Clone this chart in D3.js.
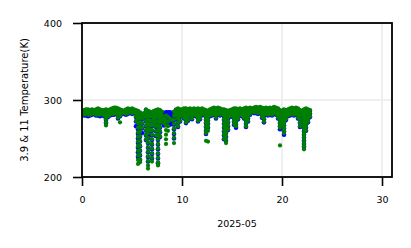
<!DOCTYPE html>
<html><head><meta charset="utf-8">
<script src="https://cdn.jsdelivr.net/npm/d3@7"></script>
<style>
html,body{margin:0;padding:0;background:#fff;}
svg{display:block;}
text{font-family:"DejaVu Sans",sans-serif;fill:#000;}
</style></head>
<body><div id="chart"></div>
<script>
const xTicks = [0, 10, 20, 30];
const yTicks = [200, 300, 400];
const xLabel = "2025-05";
const yLabel = "3.9 & 11 Temperature(K)";

const days = [0.2,0.4,0.6,0.8,1.0,1.2,1.4,1.6,1.8,2.0,2.2,2.4,2.6,2.8,3.0,3.2,3.4,3.6,3.8,4.0,4.2,4.4,4.6,4.8,5.0,5.2,5.4,5.6,5.8,6.0,6.2,6.4,6.6,6.8,7.0,7.2,7.4,7.6,7.8,8.0,8.2,8.4,8.6,8.8,9.0,9.2,9.4,9.6,9.8,10.0,10.2,10.4,10.6,10.8,11.0,11.2,11.4,11.6,11.8,12.0,12.2,12.4,12.6,12.8,13.0,13.2,13.4,13.6,13.8,14.0,14.2,14.4,14.6,14.8,15.0,15.2,15.4,15.6,15.8,16.0,16.2,16.4,16.6,16.8,17.0,17.2,17.4,17.6,17.8,18.0,18.2,18.4,18.6,18.8,19.0,19.2,19.4,19.6,19.8,20.0,20.2,20.4,20.6,20.8,21.0,21.2,21.4,21.6,21.8,22.0,22.2,22.4,22.6,22.8];

// 11 um brightness temperature (green), several samples per time column
const temp11 = [
[287,284,281],[288,285,282],[288,284,281],[287,284,281],[288,285,282],[286,283],
[288,284,281],[289,285,281],[288,284,281],[287,283],[287,284,280],[288,284,279,275,271,267],
[287,283,279],[288,285,281],[289,285,282],[290,286,282],[290,286,283],[289,285,281,277],
[288,284,280,271],[287,283],[286,283],[288,285,282],[289,286,283],[288,285],[289,286,283],[288,284],
[287,283,279,273],[286,282,276,270,264,258,252,246,240,234,228,222,217],
[284,278,271,265,259,253,247,241,235,229,223,219],[282,276,270,264],[283,278],
[288,284,279,273,267,261,255,249],[286,281,275,269,263,257,251,245,239,233,227,221,215,211],
[285,279,273,267,261],[284,279,273,267,261,255,249,243,237,231,225,220],[286,281,276,270],
[287,283,278,272,266,260,254],[288,284,279,273,267,261,255,249,243,237,231,225,219,215],
[287,283,277,271,265,259,253],[285,280,274],[276,270],[280,273,267,261,255,249,243],
[278,272,266,260],[276],[274],[285,280,275,269,263,257,251,244],[288,284,280],
[289,285,281,276,271,266],[288,284,279,273],[288,285,281],[289,285,281,277],
[289,285,280,275,271],[288,284,279,274],[289,285,281],[288,284,280,276],[289,285,281],
[288,284,280],[289,285,281,277,273],[288,284,280,276],[289,285,281],[288,284],
[287,283,279,275,271,266,261,257,247],[286,282,278,274,270,265,260,246],[288,284,280],
[289,285,281],[290,286,282],[289,285,281,277],[290,286,282],[289,285,281],[288,284],
[288,284,280,275,270,265,260,255,250],[287,283,278,273,268,263,258,253,248,244],
[286,282,277,272,267,262],[287,283,279],[288,284,280],[289,285,281,277,273,269],
[289,285,281,277,273,269,266],[288,284,280,276],[289,285,281],[288,284,280],
[289,285,281,277],[290,286,282,278,274,270,266],[289,285,281,277,273],[290,286,282],
[289,285],[290,287,284],[291,287,284],[290,287,283],[291,287,284],[290,286,282,278],
[289,285,281,276,272],[290,286,282],[289,285,281],[290,286,282],[289,285,281],
[291,287,283],[290,286,282],[289,285,281,277],[287,283,279,275,271,267,264,241],
[285,280,275,270],[288,284,280,276,272,268,264,260,257],[287,283,279,275],[288,284,280],
[289,285,281],[290,286,282],[289,285,281],[290,286,282],[289,285,281,277],
[287,283,279,275,271,266],[286,282],
[288,284,280,276,272,268,264,260,256,252,248,244,240,236],
[289,285,281,277,273,269,265,261],[288,284,280,276,272],[287,283,279]
];

// 3.9 um brightness temperature (blue)
const temp39 = [
[286,283,280],[287,284,280],[287,283,279],[286,283,280],[287,284,281],[285,282],
[287,283,280],[288,284,280],[287,283,279],[286,282],[286,283,279],[287,283,278,274,270],
[286,282,278],[287,284,280],[288,284,281],[289,285,281],[289,285,282],[288,284,280,276],
[287,283,279],[286,282],[285,282],[287,284,281],[288,285,282],[287,284],[288,285,282],[287,283],
[286,282,278,272,266],[285,280,274,268,262,256,250,244,238,232,226],
[283,277,270,264,258,252,246,240,234,228,222],[281,275,269,263,257],[282,277],
[287,283,278,272,266,260,254,248],[285,280,274,268,262,256,250,244,238,232,226,220],
[284,278,272,266,260,254],[283,278,272,266,260,254,248,242,236,230,224],[285,280,275,269],
[286,282,277,271,265,259,253],[287,283,278,272,266,260,254,248,242,236,230,224,218],
[286,282,276,270,264,258,252],[284,279,273],[283,279,275,271,267],[284,280,276,272,268],
[284,280,276,272,268],[284,280,276,272,268],[283,279,275,271],[284,279,274,268,262,256,250],
[287,283,279,275],[288,284,280,275,270,265],[287,283,278,272],[287,284,280],[288,284,280,276],
[288,284,279,274,270],[287,283,278,273],[288,284,280],[287,283,279,275],[288,284,280],
[287,283,279],[288,284,280,276,272],[287,283,279,275],[288,284,280],[287,283],
[286,282,278,274,270,265,260,256],[285,281,277,273,269,264],[287,283,279],
[288,284,280],[289,285,281],[288,284,280,276],[289,285,281],[288,284,280],[287,283],
[287,283,279,274,269,264,259,254,249],[286,282,277,272,267,262,257,252,247],
[285,281,276,271,266,261],[286,282,278],[287,283,279],[288,284,280,276,272,268],
[288,284,280,276,272,268,264],[287,283,279,275],[288,284,280],[287,283,279],
[288,284,280,276],[289,285,281,277,273,269,265],[288,284,280,276,272],[289,285,281],
[288,284],[289,286,283],[290,286,283],[289,286,282],[290,286,283],[289,285,281,277],
[288,284,280,275,271],[289,285,281],[288,284,280],[289,285,281],[288,284,280],
[290,286,282],[289,285,281],[288,284,280,276],[286,282,278,274,270,266,262],
[284,279,274,269],[287,283,279,275,271,267,263,259,255],[286,282,278,274],[287,283,279],
[288,284,280],[289,285,281],[288,284,280],[289,285,281],[288,284,280,276],
[286,282,278,274,270,265],[285,281],
[287,283,279,275,271,267,263,259,255,251,247,243,239],
[288,284,280,276,272,268,264,260],[287,283,279,275,271],[286,282,278]
];

const W = 411, H = 248;
const svg = d3.select("#chart").append("svg").attr("width", W).attr("height", H);
svg.append("rect").attr("width", W).attr("height", H).attr("fill", "#fff");

const x = d3.scaleLinear().domain([0, 31]).range([82, 392]);
const y = d3.scaleLinear().domain([200, 400]).range([177, 23]);

// grid
const grid = svg.append("g");
grid.selectAll("line.gx").data(xTicks).join("line")
  .attr("x1", d => x(d)).attr("x2", d => x(d)).attr("y1", y(200)).attr("y2", y(400))
  .attr("stroke", "#ebebeb").attr("stroke-width", 1.6);
grid.selectAll("line.gy").data(yTicks).join("line")
  .attr("y1", d => y(d)).attr("y2", d => y(d)).attr("x1", x(0)).attr("x2", x(31))
  .attr("stroke", "#ebebeb").attr("stroke-width", 1.6);

function flatten(vals) {
  const out = [];
  days.forEach((d, i) => vals[i].forEach(t => out.push([d, t])));
  return out;
}

svg.append("g").selectAll("circle").data(flatten(temp39)).join("circle")
  .attr("cx", d => x(d[0])).attr("cy", d => y(d[1])).attr("r", 2.3).attr("fill", "#0000ff");
svg.append("g").selectAll("circle").data(flatten(temp11)).join("circle")
  .attr("cx", d => x(d[0])).attr("cy", d => y(d[1])).attr("r", 2.1).attr("fill", "#008000");

// frame
svg.append("rect").attr("x", x(0)).attr("y", y(400)).attr("width", x(31) - x(0)).attr("height", y(200) - y(400))
  .attr("fill", "none").attr("stroke", "#000").attr("stroke-width", 1.8);

const xAxis = svg.append("g").attr("transform", `translate(0,${y(200)})`)
  .call(d3.axisBottom(x).tickValues(xTicks).tickSize(9).tickPadding(10).tickFormat(d3.format("d")));
const yAxis = svg.append("g").attr("transform", `translate(${x(0)},0)`)
  .call(d3.axisLeft(y).tickValues(yTicks).tickSize(9).tickPadding(11).tickFormat(d3.format("d")));
[xAxis, yAxis].forEach(a => {
  a.select(".domain").remove();
  a.selectAll(".tick line").attr("stroke", "#000").attr("stroke-width", 1.6);
  a.selectAll(".tick text").attr("font-family", "DejaVu Sans").attr("font-size", 9.5).attr("fill", "#000");
});

svg.append("text").attr("x", (x(0) + x(31)) / 2).attr("y", 226.5).attr("text-anchor", "middle")
  .attr("font-size", 9.5).text(xLabel);
svg.append("text").attr("transform", `translate(28,100) rotate(-90)`).attr("text-anchor", "middle")
  .attr("font-size", 10).text(yLabel);
</script>
</body></html>
